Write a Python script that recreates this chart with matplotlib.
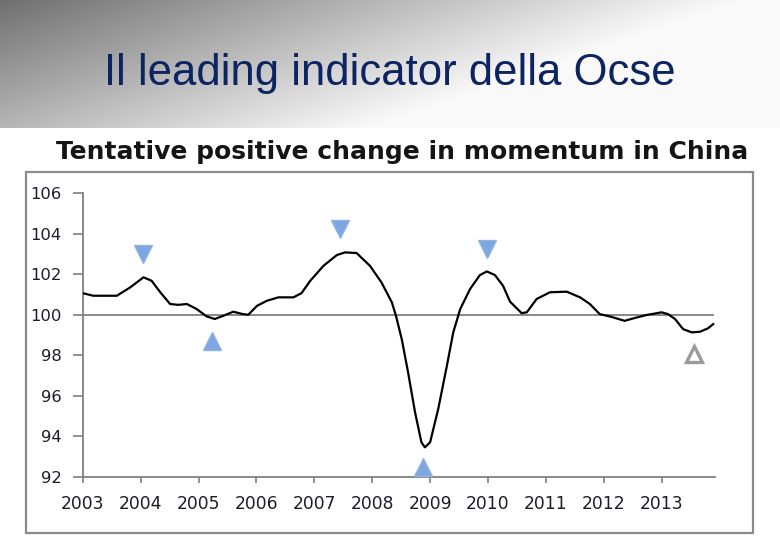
import numpy as np
import matplotlib
matplotlib.use("Agg")
import matplotlib.pyplot as plt
from matplotlib.patches import Rectangle

# ---- data ----
years = [2003.01, 2003.18, 2003.59, 2003.82, 2004.05, 2004.19, 2004.34, 2004.51, 2004.65,
         2004.80, 2004.97, 2005.14, 2005.28, 2005.43, 2005.60, 2005.77, 2005.86, 2006.01,
         2006.18, 2006.38, 2006.64, 2006.78, 2006.93, 2007.16, 2007.39, 2007.53, 2007.73,
         2007.96, 2008.16, 2008.34, 2008.41, 2008.51, 2008.62, 2008.74, 2008.85, 2008.91,
         2009.00, 2009.14, 2009.29, 2009.40, 2009.52, 2009.69, 2009.86, 2009.98, 2010.12,
         2010.26, 2010.38, 2010.58, 2010.67, 2010.84, 2011.07, 2011.36, 2011.59, 2011.76,
         2011.93, 2012.10, 2012.36, 2012.51, 2012.74, 2013.00, 2013.11, 2013.23, 2013.37,
         2013.52, 2013.66, 2013.80, 2013.89]
cli = [101.06, 100.94, 100.94, 101.35, 101.85, 101.68, 101.11, 100.53, 100.49,
       100.53, 100.28, 99.92, 99.79, 99.95, 100.15, 100.03, 100.00, 100.44,
       100.69, 100.86, 100.86, 101.07, 101.68, 102.42, 102.95, 103.08, 103.05,
       102.42, 101.60, 100.61, 99.95, 98.80, 97.15, 95.18, 93.70, 93.45,
       93.70, 95.34, 97.48, 99.13, 100.28, 101.27, 101.96, 102.14, 101.96,
       101.43, 100.65, 100.08, 100.12, 100.78, 101.11, 101.14, 100.86, 100.53,
       100.03, 99.92, 99.70, 99.82, 99.99, 100.12, 100.03, 99.79, 99.29,
       99.13, 99.16, 99.33, 99.54]

peak_years = [2004.05, 2007.45, 2009.98]
peak_vals = [103.0, 104.23, 103.25]
trough_years = [2005.23, 2008.87]
trough_vals = [98.72, 92.46]
tentative_years = [2013.55]
tentative_vals = [98.06]

x_ticks = list(range(2003, 2014))
y_ticks = [92, 94, 96, 98, 100, 102, 104, 106]

slide_title = "Il leading indicator della Ocse"
chart_title = "Tentative positive change in momentum in China"

W, H = 780, 540
fig = plt.figure(figsize=(W / 100, H / 100), dpi=100)
fig.patch.set_facecolor("white")

# ---- header gradient band ----
hb = 128
gax = fig.add_axes([0, 1 - hb / H, 1, hb / H])
gx = np.linspace(0, 1, 400)[None, :]
gy = np.linspace(0, 1, 80)[:, None]
t = np.clip(gx * 1.05 + gy * 0.5, 0, 1)
val = 0.44 + 0.54 * t
img = np.dstack([val, val, val])
gax.imshow(img, aspect="auto", extent=[0, 1, 1, 0], interpolation="bilinear")
gax.set_axis_off()

fig.text(0.5, 1 - 85 / H, slide_title, ha="center", va="baseline",
         fontsize=31.4, family="Liberation Sans", color="#0d2462")

# ---- chart frame ----
fig.patches.append(Rectangle((26 / W, 1 - 533 / H), (753 - 26) / W, (533 - 172) / H,
                             transform=fig.transFigure, fill=False,
                             edgecolor="#8a8a8a", linewidth=1.6))

fig.text(402.5 / W, 1 - 159.5 / H, chart_title, ha="center", va="baseline",
         fontsize=18.0, fontweight="bold", family="DejaVu Sans", color="#151515")

# ---- main axes ----
x0, x1 = 82.7, 715
y0, y1 = 193.3, 476.7
ax = fig.add_axes([x0 / W, 1 - y1 / H, (x1 - x0) / W, (y1 - y0) / H])
ax.set_xlim(2003, 2003 + (x1 - x0) / 57.9)
ax.set_ylim(92, 106)

ax.plot([2003, 2013.89], [100, 100], color="#808080", lw=1.3, zorder=2)
ax.plot(years, cli, color="black", lw=1.6, zorder=3, solid_joinstyle="round")

ax.plot(peak_years, peak_vals, linestyle="none", marker="v", ms=13,
        color="#7ea7e2", mec="#8fb3e6", zorder=4)
ax.plot(trough_years, trough_vals, linestyle="none", marker="^", ms=13,
        color="#7ea7e2", mec="#8fb3e6", zorder=4)
ax.plot(tentative_years, tentative_vals, linestyle="none", marker="^", ms=11.5,
        mfc="white", mec="#9a9a9a", mew=2.4, zorder=4)

for s in ["top", "right"]:
    ax.spines[s].set_visible(False)
for s in ["left", "bottom"]:
    ax.spines[s].set_color("#808080")
    ax.spines[s].set_linewidth(1.3)

ax.set_xticks(x_ticks)
ax.set_yticks(y_ticks)
ax.set_xticklabels([str(v) for v in x_ticks])
ax.set_yticklabels([str(v) for v in y_ticks])
ax.tick_params(axis="x", direction="out", length=4.5, width=1.2, color="#808080",
               pad=9.0, labelsize=12.3, labelcolor="#1c1c2a")
ax.tick_params(axis="y", direction="out", length=7, width=1.2, color="#808080",
               pad=8.2, labelsize=11.8, labelcolor="#1c1c2a")
ax.set_facecolor("none")

fig.savefig("out.png", dpi=100)
